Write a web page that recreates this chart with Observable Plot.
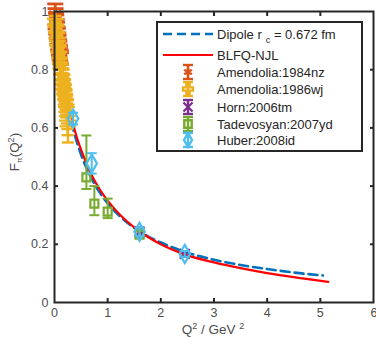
<!DOCTYPE html>
<html><head><meta charset="utf-8">
<script src="https://cdn.jsdelivr.net/npm/d3@7"></script>
<script src="https://cdn.jsdelivr.net/npm/@observablehq/plot@0.6"></script>
<style>body{margin:0;background:#fff;} #chart{width:376px;height:339px;}</style>
</head><body><div id="chart"></div>
<script>
// ---- tick labels ----
const xTicks = [0, 1, 2, 3, 4, 5, 6];
const yTicks = [0, 0.2, 0.4, 0.6, 0.8, 1];

// ---- curves ----
const dipoleQ2 = [0, 0.05, 0.1, 0.15, 0.2, 0.3, 0.4, 0.5, 0.6, 0.75, 0.9, 1, 1.25, 1.5, 1.75, 2, 2.5, 3, 3.5, 4, 4.5, 5.05];
const dipoleF  = [1, 0.912, 0.838, 0.775, 0.721, 0.633, 0.564, 0.508, 0.463, 0.408, 0.365, 0.341, 0.293, 0.256, 0.228, 0.206, 0.171, 0.147, 0.129, 0.115, 0.103, 0.093];
const blfqQ2 = [0, 0.05, 0.1, 0.15, 0.2, 0.3, 0.4, 0.5, 0.6, 0.75, 0.9, 1, 1.25, 1.5, 1.75, 2, 2.5, 3, 3.5, 4, 4.5, 5.15];
const blfqF  = [1, 0.92, 0.85, 0.79, 0.735, 0.65, 0.58, 0.525, 0.478, 0.42, 0.375, 0.35, 0.298, 0.258, 0.226, 0.2, 0.162, 0.138, 0.118, 0.101, 0.087, 0.071];

// ---- data series ----
const am84Q2  = [0.014, 0.020, 0.027, 0.034, 0.041, 0.048, 0.055, 0.062, 0.069, 0.076, 0.083, 0.090, 0.097, 0.104, 0.111, 0.118, 0.122];
const am84F   = [0.990, 0.975, 0.962, 0.955, 0.941, 0.932, 0.918, 0.912, 0.898, 0.890, 0.878, 0.872, 0.860, 0.856, 0.846, 0.842, 0.838];
const am84Err = [0.036, 0.035, 0.034, 0.033, 0.032, 0.031, 0.030, 0.030, 0.029, 0.028, 0.027, 0.026, 0.025, 0.024, 0.023, 0.022, 0.020];

const am86Q2  = [0.015, 0.022, 0.029, 0.036, 0.043, 0.050, 0.057, 0.064, 0.071, 0.078, 0.085, 0.092, 0.099, 0.106, 0.113, 0.120, 0.127, 0.134, 0.141, 0.148, 0.155, 0.162, 0.169, 0.176, 0.183, 0.190, 0.197, 0.204, 0.211, 0.218, 0.225, 0.232, 0.239, 0.246, 0.253];
const am86F   = [0.975, 0.955, 0.950, 0.930, 0.926, 0.908, 0.900, 0.885, 0.880, 0.862, 0.860, 0.842, 0.838, 0.825, 0.818, 0.805, 0.800, 0.785, 0.782, 0.768, 0.765, 0.752, 0.748, 0.735, 0.730, 0.718, 0.712, 0.700, 0.695, 0.680, 0.672, 0.655, 0.640, 0.625, 0.605];
const am86Err = [0.010, 0.010, 0.011, 0.011, 0.012, 0.012, 0.013, 0.013, 0.014, 0.014, 0.015, 0.015, 0.016, 0.016, 0.017, 0.018, 0.018, 0.019, 0.020, 0.021, 0.022, 0.023, 0.024, 0.025, 0.026, 0.027, 0.028, 0.030, 0.032, 0.034, 0.036, 0.040, 0.044, 0.050, 0.055];

const hornQ2 = [1.60, 2.45];
const hornF  = [0.243, 0.167];
const hornLo = [0.228, 0.157];
const hornHi = [0.258, 0.177];

const tadQ2 = [0.60, 0.75, 1.00, 1.60];
const tadF  = [0.430, 0.340, 0.312, 0.233];
const tadLo = [0.390, 0.300, 0.290, 0.222];
const tadHi = [0.574, 0.400, 0.357, 0.250];

const hubQ2 = [0.35, 0.70, 1.60, 2.45];
const hubF  = [0.632, 0.478, 0.243, 0.167];
const hubLo = [0.612, 0.443, 0.228, 0.157];
const hubHi = [0.652, 0.513, 0.258, 0.177];

// ---- colours ----
const colDipole = "#0072BD", colBLFQ = "#FF0000";
const colAm84 = "#D95319", colAm86 = "#EDB120", colHorn = "#7E2F8E", colTad = "#77AC30", colHub = "#4DBEEE";

// ---- build tables ----
const line = (qs, fs) => qs.map((q, i) => ({q, f: fs[i]}));
const sym = (qs, fs, err) => qs.map((q, i) => ({q, f: fs[i], lo: fs[i] - err[i], hi: fs[i] + err[i]}));
const asym = (qs, fs, lo, hi) => qs.map((q, i) => ({q, f: fs[i], lo: lo[i], hi: hi[i]}));

const dipole = line(dipoleQ2, dipoleF);
const blfq = line(blfqQ2, blfqF);
const am84 = sym(am84Q2, am84F, am84Err);
const am86 = sym(am86Q2, am86F, am86Err);
const horn = asym(hornQ2, hornF, hornLo, hornHi);
const tad = asym(tadQ2, tadF, tadLo, tadHi);
const hub = asym(hubQ2, hubF, hubLo, hubHi);

const cap = {draw(ctx, size) { const r = Math.sqrt(size / Math.PI); ctx.moveTo(-r, 0); ctx.lineTo(r, 0); }};

function errSeries(data, color, symbol, r, capR, sw) {
  return [
    Plot.ruleX(data, {x: "q", y1: "lo", y2: "hi", stroke: color, strokeWidth: sw}),
    Plot.dot(data, {x: "q", y: "lo", symbol: cap, r: capR, stroke: color, strokeWidth: sw}),
    Plot.dot(data, {x: "q", y: "hi", symbol: cap, r: capR, stroke: color, strokeWidth: sw}),
    Plot.dot(data, {x: "q", y: "f", symbol, r, stroke: color, strokeWidth: 2.2, fill: "none"})
  ];
}

const axisColor = "#262626";
const plot = Plot.plot({
  width: 376, height: 339,
  marginLeft: 54, marginRight: 3, marginTop: 11, marginBottom: 37,
  style: {fontFamily: "'Liberation Sans', Arial, sans-serif", fontSize: "12.5px", color: "#4d4d4d", background: "#fff"},
  x: {domain: [0, 6]},
  y: {domain: [0, 1]},
  marks: [
    Plot.line(dipole, {x: "q", y: "f", stroke: colDipole, strokeWidth: 2.6, strokeDasharray: "9,5", curve: "monotone-x"}),
    Plot.line(blfq, {x: "q", y: "f", stroke: colBLFQ, strokeWidth: 2.2, curve: "monotone-x"}),
    ...errSeries(am84, colAm84, "asterisk", 6.5, 8, 2.8),
    ...errSeries(am86, colAm86, "plus", 5.5, 6, 2.4),
    ...errSeries(horn, colHorn, "times", 4.5, 5, 2),
    ...errSeries(tad, colTad, "square", 4.5, 5, 2),
    ...errSeries(hub, colHub, "diamond", 5.5, 5, 2),
    Plot.frame({stroke: axisColor, strokeWidth: 2}),
    Plot.axisX(xTicks.slice(0, -1), {anchor: "bottom", tickSize: 0, tickPadding: 6, label: null, tickFormat: d => String(d), fill: "#4d4d4d"}),
    Plot.axisX(xTicks.slice(-1), {anchor: "bottom", tickSize: 0, tickPadding: 6, label: null, tickFormat: d => String(d), fill: "#4d4d4d", textAnchor: "end", dx: 4}),
    Plot.axisY(yTicks, {anchor: "left", tickSize: 0, tickPadding: 6, label: null, tickFormat: d => String(d), fill: "#4d4d4d"}),
    Plot.axisX(xTicks.slice(1, -1), {anchor: "bottom", tickSize: -4, tickFormat: () => "", label: null, stroke: axisColor, strokeWidth: 2}),
    Plot.axisX(xTicks.slice(1, -1), {anchor: "top", tickSize: -4, tickFormat: () => "", label: null, stroke: axisColor, strokeWidth: 2}),
    Plot.axisY(yTicks.slice(1, -1), {anchor: "left", tickSize: -4, tickFormat: () => "", label: null, stroke: axisColor, strokeWidth: 2}),
    Plot.axisY(yTicks.slice(1, -1), {anchor: "right", tickSize: -4, tickFormat: () => "", label: null, stroke: axisColor, strokeWidth: 2})
  ]
});
document.getElementById("chart").appendChild(plot);

// ---- axis titles ----
const svg = d3.select(plot);
const ff = "'Liberation Sans', Arial, sans-serif";
const yl = svg.append("text").attr("transform", "translate(19,152) rotate(-90)")
  .attr("text-anchor", "middle").attr("font-family", ff).attr("font-size", 13.5).attr("fill", "#4d4d4d");
yl.append("tspan").text("F");
yl.append("tspan").attr("dy", 3).attr("font-size", 8).text("π");
yl.append("tspan").attr("dy", -3).text("(Q");
yl.append("tspan").attr("dy", -5).attr("font-size", 9).text("2");
yl.append("tspan").attr("dy", 5).text(")");

const xl = svg.append("text").attr("x", 213).attr("y", 334)
  .attr("text-anchor", "middle").attr("font-family", ff).attr("font-size", 13.5).attr("fill", "#4d4d4d");
xl.append("tspan").text("Q");
xl.append("tspan").attr("dy", -5).attr("font-size", 9).text("2");
xl.append("tspan").attr("dy", 5).text(" / GeV ");
xl.append("tspan").attr("dy", -5).attr("font-size", 9).text("2");

// ---- legend ----
const legendItems = [
  {type: "dash", color: colDipole, label: "Dipole r", sub: "c", rest: " = 0.672 fm"},
  {type: "line", color: colBLFQ, label: "BLFQ-NJL"},
  {type: "err", color: colAm84, symbol: d3.symbolAsterisk, label: "Amendolia:1984nz"},
  {type: "err", color: colAm86, symbol: d3.symbolCross, label: "Amendolia:1986wj"},
  {type: "err", color: colHorn, symbol: d3.symbolTimes, label: "Horn:2006tm"},
  {type: "err", color: colTad, symbol: d3.symbolSquare, label: "Tadevosyan:2007yd"},
  {type: "err", color: colHub, symbol: d3.symbolDiamond, label: "Huber:2008id"}
];
const rowsY = [34, 55, 72, 89, 107, 124, 140];
const lg = svg.append("g");
lg.append("rect").attr("x", 157).attr("y", 22).attr("width", 205).attr("height", 129)
  .attr("fill", "#fff").attr("stroke", axisColor).attr("stroke-width", 2);
legendItems.forEach((it, i) => {
  const y = rowsY[i];
  if (it.type === "dash" || it.type === "line") {
    lg.append("line").attr("x1", 163).attr("x2", 213).attr("y1", y).attr("y2", y)
      .attr("stroke", it.color).attr("stroke-width", it.type === "dash" ? 2.6 : 2.2)
      .attr("stroke-dasharray", it.type === "dash" ? "9,5" : null);
  } else {
    const cx = 188;
    lg.append("line").attr("x1", cx).attr("x2", cx).attr("y1", y - 7).attr("y2", y + 7).attr("stroke", it.color).attr("stroke-width", 2.4);
    lg.append("line").attr("x1", cx - 5).attr("x2", cx + 5).attr("y1", y - 7).attr("y2", y - 7).attr("stroke", it.color).attr("stroke-width", 2.4);
    lg.append("line").attr("x1", cx - 5).attr("x2", cx + 5).attr("y1", y + 7).attr("y2", y + 7).attr("stroke", it.color).attr("stroke-width", 2.4);
    lg.append("path").attr("d", d3.symbol(it.symbol, 55)()).attr("transform", `translate(${cx},${y})`)
      .attr("fill", "none").attr("stroke", it.color).attr("stroke-width", 2.4);
  }
  const t = lg.append("text").attr("x", 217).attr("y", y + 4.5).attr("text-anchor", "start")
    .attr("font-family", ff).attr("font-size", 13).attr("fill", "#262626");
  t.append("tspan").text(it.label);
  if (it.sub) {
    t.append("tspan").attr("dx", 4).attr("dy", 4).attr("font-size", 9).text(it.sub);
    t.append("tspan").attr("dy", -4).text(it.rest);
  }
});
</script>
</body></html>
